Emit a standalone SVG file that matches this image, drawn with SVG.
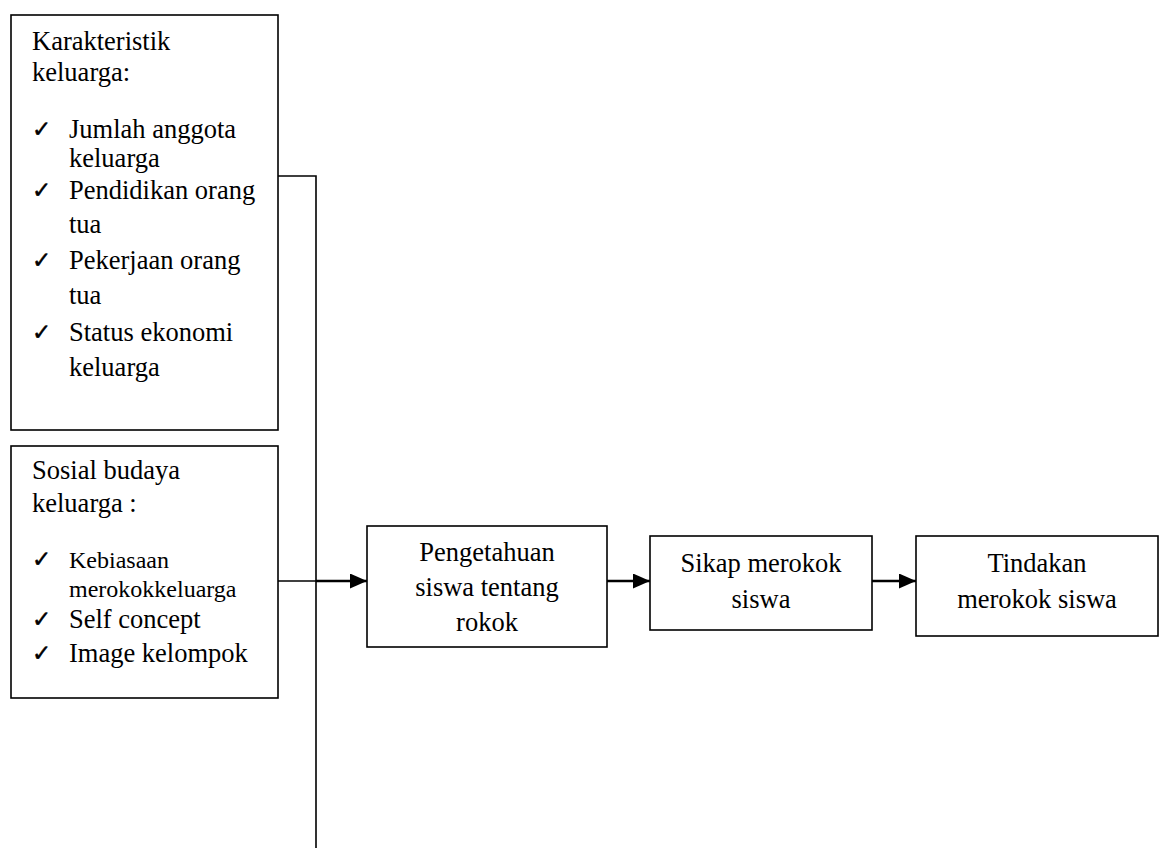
<svg xmlns="http://www.w3.org/2000/svg" width="1165" height="848" viewBox="0 0 1165 848">
<style>
.box{fill:#fff;stroke:#000;stroke-width:1.6}
.t{font-family:"Liberation Serif","Times New Roman",serif;font-size:26.5px;fill:#000}
.s{font-size:24px}
.c{text-anchor:middle}
.ck{font-family:"DejaVu Sans",sans-serif;font-size:23px;fill:#000;stroke:#000;stroke-width:0.5}
.ln{fill:none;stroke:#000;stroke-width:1.6}
.ar{fill:none;stroke:#000;stroke-width:2.4}
</style>
<defs>
<marker id="ah" markerWidth="17" markerHeight="15" refX="17" refY="7.5" orient="auto" markerUnits="userSpaceOnUse">
<path d="M0,0 L17,7.5 L0,15 Z" fill="#000"/>
</marker>
</defs>
<g id="connectors">
<polyline class="ln" points="278,176 316,176 316,848"/>
<line class="ln" x1="278" y1="581" x2="316" y2="581"/>
<line class="ar" x1="316" y1="581" x2="367" y2="581" marker-end="url(#ah)"/>
<line class="ar" x1="607" y1="581" x2="650" y2="581" marker-end="url(#ah)"/>
<line class="ar" x1="872" y1="581" x2="916" y2="581" marker-end="url(#ah)"/>
</g>
<g id="karakteristik">
<rect class="box" x="11" y="15" width="267" height="415"/>
<text class="t" x="32" y="50">Karakteristik</text>
<text class="t" x="32" y="81">keluarga:</text>
<text class="ck" x="32" y="137">✓</text>
<text class="t" x="69" y="138">Jumlah anggota</text>
<text class="t" x="69" y="167">keluarga</text>
<text class="ck" x="32" y="198">✓</text>
<text class="t" x="69" y="199">Pendidikan orang</text>
<text class="t" x="69" y="233">tua</text>
<text class="ck" x="32" y="268">✓</text>
<text class="t" x="69" y="269">Pekerjaan orang</text>
<text class="t" x="69" y="304">tua</text>
<text class="ck" x="32" y="340">✓</text>
<text class="t" x="69" y="341">Status ekonomi</text>
<text class="t" x="69" y="376">keluarga</text>
</g>
<g id="sosial">
<rect class="box" x="11" y="446" width="267" height="252"/>
<text class="t" x="32" y="479">Sosial budaya</text>
<text class="t" x="32" y="512">keluarga :</text>
<text class="ck" x="32" y="567">✓</text>
<text class="t s" x="69" y="568">Kebiasaan</text>
<text class="t s" x="69" y="597">merokokkeluarga</text>
<text class="ck" x="32" y="627">✓</text>
<text class="t" x="69" y="628">Self concept</text>
<text class="ck" x="32" y="661">✓</text>
<text class="t" x="69" y="662">Image kelompok</text>
</g>
<g id="pengetahuan">
<rect class="box" x="367" y="526" width="240" height="121"/>
<text class="t c" x="487" y="561">Pengetahuan</text>
<text class="t c" x="487" y="596">siswa tentang</text>
<text class="t c" x="487" y="631">rokok</text>
</g>
<g id="sikap">
<rect class="box" x="650" y="536" width="222" height="94"/>
<text class="t c" x="761" y="572">Sikap merokok</text>
<text class="t c" x="761" y="608">siswa</text>
</g>
<g id="tindakan">
<rect class="box" x="916" y="536" width="242" height="100"/>
<text class="t c" x="1037" y="572">Tindakan</text>
<text class="t c" x="1037" y="608">merokok siswa</text>
</g>
</svg>
